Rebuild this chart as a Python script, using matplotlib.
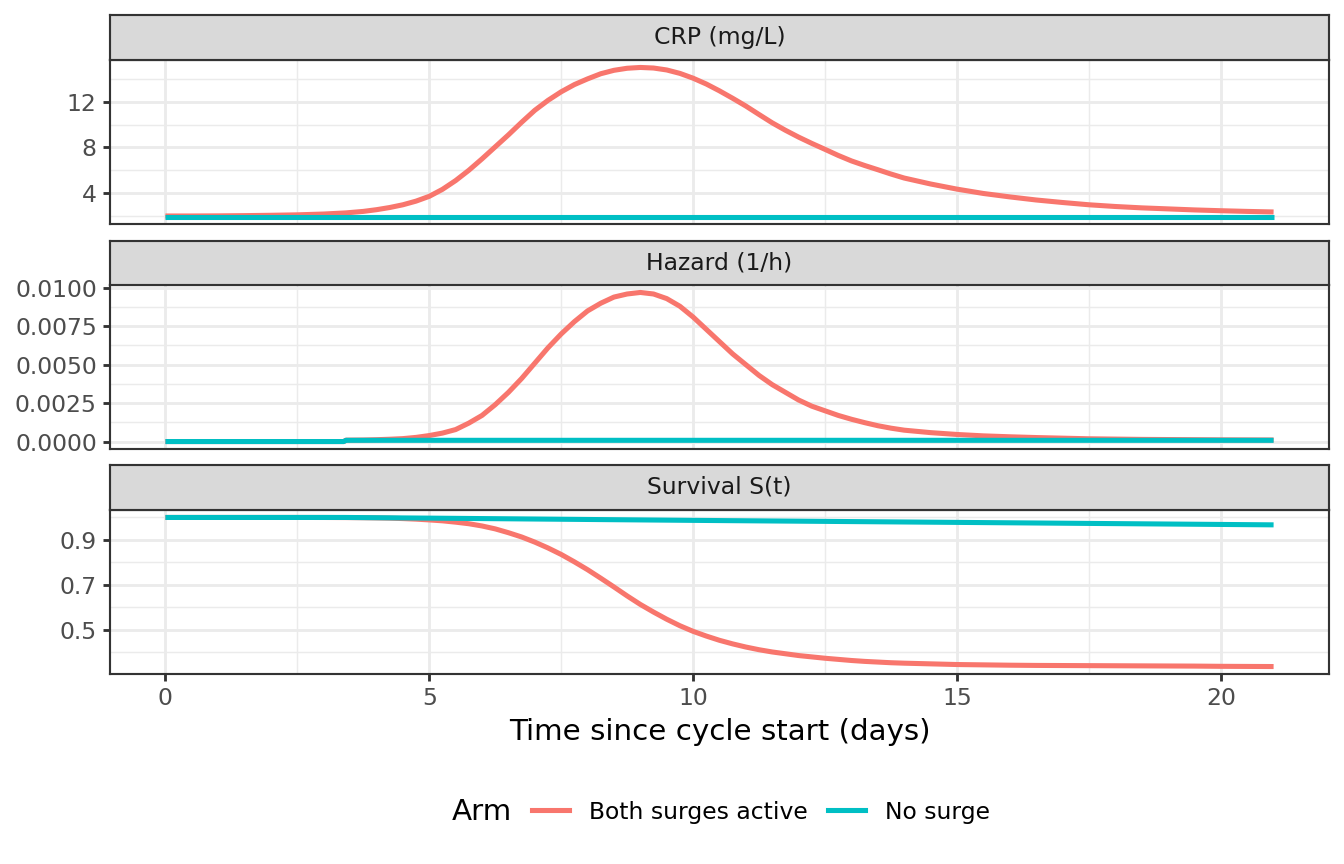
"""
Faceted time course of CRP, hazard and survival for two trial arms
(ggplot theme_bw look, one column of panels, free y scales).
"""

import matplotlib.pyplot as plt
from matplotlib.lines import Line2D
from matplotlib.ticker import FixedLocator, FormatStrFormatter

plt.rcParams["font.family"] = ["DejaVu Sans"]

ARMS = ["Both surges active", "No surge"]
ARM_COLORS = {"Both surges active": "#F8766D", "No surge": "#00BFC4"}
PANEL_TITLES = ["CRP (mg/L)", "Hazard (1/h)", "Survival S(t)"]

# ---- data (days since cycle start) ----
DAYS = [0.0, 0.5, 1.0, 1.5, 2.0, 2.5, 3.0, 3.38, 3.42, 3.75,
        4.0, 4.25, 4.5, 4.75, 5.0, 5.25, 5.5, 5.75, 6.0, 6.25, 6.5, 6.75,
        7.0, 7.25, 7.5, 7.75, 8.0, 8.25, 8.5, 8.75, 9.0, 9.25, 9.5, 9.75,
        10.0, 10.25, 10.5, 10.75, 11.0, 11.25, 11.5, 11.75, 12.0, 12.25,
        12.5, 12.75, 13.0, 13.25, 13.5, 13.75, 14.0,
        14.5, 15.0, 15.5, 16.0, 16.5, 17.0, 17.5, 18.0, 18.5, 19.0, 19.5,
        20.0, 20.5, 21.0]

CRP_BOTH = [2.00, 2.00, 2.01, 2.03, 2.06, 2.10, 2.17, 2.26, 2.27, 2.40,
            2.55, 2.74, 2.98, 3.30, 3.72, 4.33, 5.10, 6.00, 7.00, 8.05, 9.10,
            10.20, 11.25, 12.12, 12.87, 13.50, 14.00, 14.45, 14.75, 14.93,
            15.00, 14.95, 14.78, 14.48, 14.06, 13.55, 12.95, 12.30, 11.62,
            10.88, 10.15, 9.50, 8.90, 8.35, 7.83, 7.30, 6.82, 6.42, 6.05,
            5.67, 5.32,
            4.80, 4.35, 3.97, 3.67, 3.40, 3.18, 2.98, 2.83, 2.71, 2.62, 2.53,
            2.46, 2.40, 2.35]
CRP_NONE_DAYS = [0.0, 21.0]
CRP_NONE = [1.95, 1.95]

HAZ_BOTH = [0.0, 0.0, 0.0, 0.0, 0.0, 0.0, 0.0, 0.0, 0.00009, 0.0001,
            0.00012, 0.00015, 0.00019, 0.00027, 0.00039, 0.00055, 0.00078,
            0.0012, 0.0017, 0.0024, 0.0032, 0.0041, 0.0051, 0.0061, 0.0070,
            0.0078, 0.0085, 0.0090, 0.0094, 0.0096, 0.0097, 0.0096, 0.0093,
            0.0088, 0.0081, 0.0073, 0.0065, 0.0057, 0.0050, 0.0043, 0.0037,
            0.0032, 0.0027, 0.0023, 0.0020, 0.0017, 0.00145, 0.00123,
            0.00103, 0.00087, 0.00074,
            0.00058, 0.00046, 0.00037, 0.00031, 0.00026, 0.00022, 0.00018,
            0.00016, 0.00014, 0.00013, 0.00012, 0.00011, 0.000105, 0.0001]
HAZ_NONE_DAYS = [0.0, 3.38, 3.42, 21.0]
HAZ_NONE = [0.0, 0.0, 0.00008, 0.00008]

SURV_BOTH = [1.0, 1.0, 1.0, 1.0, 1.0, 1.0, 0.9999, 0.9995, 0.9995, 0.9988,
             0.998, 0.997, 0.995, 0.9925, 0.989, 0.985, 0.979, 0.972, 0.962,
             0.949, 0.932, 0.913, 0.890, 0.864, 0.835, 0.802, 0.767, 0.729,
             0.690, 0.650, 0.612, 0.578, 0.546, 0.517, 0.492, 0.471, 0.452,
             0.436, 0.422, 0.410, 0.400, 0.392, 0.384, 0.378, 0.372, 0.367,
             0.362, 0.358, 0.355, 0.352, 0.350,
             0.347, 0.344, 0.3425, 0.341, 0.340, 0.3395, 0.339, 0.3385,
             0.338, 0.3375, 0.337, 0.336, 0.3355, 0.335]
SURV_NONE_DAYS = [0.0, 3.4, 5.0, 10.0, 15.0, 21.0]
SURV_NONE = [1.0, 1.0, 0.997, 0.987, 0.978, 0.967]

Y_BREAKS = [[4, 8, 12], [0.0, 0.0025, 0.005, 0.0075, 0.01], [0.5, 0.7, 0.9]]
Y_MINOR = [[2, 6, 10, 14], [0.00125, 0.00375, 0.00625, 0.00875],
           [0.4, 0.6, 0.8, 1.0]]
Y_FMT = ["%g", "%.4f", "%.1f"]
X_BREAKS = [0, 5, 10, 15, 20]
X_MINOR = [2.5, 7.5, 12.5, 17.5]

# ggplot theme_bw colours
GREY20 = "#333333"
GREY30 = "#4D4D4D"
GREY85 = "#D9D9D9"
GREY92 = "#EBEBEB"
LW_GRID = 1.07
LW_BORDER = 0.8


def expand(lo, hi, mult=0.05):
    pad = (hi - lo) * mult
    return lo - pad, hi + pad


def main():
    assert len(DAYS) == len(CRP_BOTH) == len(HAZ_BOTH) == len(SURV_BOTH)

    W, H = 1344, 864
    fig = plt.figure(figsize=(7, 4.5), dpi=192)

    left, right = 110 / W, 1329 / W
    # (strip top, panel top, panel bottom) in pixels from the top
    rows = [(15, 60, 224), (241, 285, 449), (465, 510, 674)]

    series = [
        ((DAYS, CRP_BOTH), (CRP_NONE_DAYS, CRP_NONE)),
        ((DAYS, HAZ_BOTH), (HAZ_NONE_DAYS, HAZ_NONE)),
        ((DAYS, SURV_BOTH), (SURV_NONE_DAYS, SURV_NONE)),
    ]

    xlim = expand(min(DAYS), max(DAYS))
    axes = []
    for i, (s_top, p_top, p_bot) in enumerate(rows):
        ax = fig.add_axes([left, 1 - p_bot / H, right - left, (p_bot - p_top) / H])
        sx = fig.add_axes([left, 1 - p_top / H, right - left, (p_top - s_top) / H])
        axes.append(ax)

        # facet strip
        sx.set_facecolor(GREY85)
        sx.set_xticks([])
        sx.set_yticks([])
        for sp in sx.spines.values():
            sp.set_color(GREY20)
            sp.set_linewidth(LW_BORDER)
        sx.text(0.5, 0.5, PANEL_TITLES[i], transform=sx.transAxes,
                ha="center", va="center", fontsize=8.8, color="#1A1A1A")

        # red first, cyan drawn on top
        for (xs, ys), arm in zip(series[i], ARMS):
            ax.plot(xs, ys, color=ARM_COLORS[arm], lw=1.9, solid_capstyle="butt",
                    solid_joinstyle="round", zorder=3)

        all_y = list(series[i][0][1]) + list(series[i][1][1])
        ax.set_xlim(*xlim)
        ax.set_ylim(*expand(min(all_y), max(all_y)))

        ax.xaxis.set_major_locator(FixedLocator(X_BREAKS))
        ax.xaxis.set_minor_locator(FixedLocator(X_MINOR))
        ax.yaxis.set_major_locator(FixedLocator(Y_BREAKS[i]))
        ax.yaxis.set_minor_locator(FixedLocator(Y_MINOR[i]))
        ax.yaxis.set_major_formatter(FormatStrFormatter(Y_FMT[i]))

        ax.grid(which="major", color=GREY92, lw=LW_GRID, zorder=0)
        ax.grid(which="minor", color=GREY92, lw=LW_GRID / 2, zorder=0)
        ax.set_axisbelow(True)

        for sp in ax.spines.values():
            sp.set_color(GREY20)
            sp.set_linewidth(LW_BORDER)
            sp.set_zorder(4)

        ax.tick_params(axis="y", which="major", length=2.75, width=LW_GRID,
                       color=GREY20, labelcolor=GREY30, labelsize=8.8, pad=2.2)
        ax.tick_params(which="minor", length=0)
        if i < 2:
            ax.tick_params(axis="x", which="major", length=0, labelbottom=False)
        else:
            ax.tick_params(axis="x", which="major", length=2.75, width=LW_GRID,
                           color=GREY20, labelcolor=GREY30, labelsize=8.8, pad=2.2)

    axes[-1].set_xlabel("Time since cycle start (days)", fontsize=11,
                        color="black", labelpad=2.75)

    # legend at the bottom, title on the left like ggplot
    y_leg = 1 - 812 / H
    fig.text(452 / W, y_leg, "Arm", ha="left", va="center", fontsize=11)
    handles = [Line2D([], [], color=ARM_COLORS[a], lw=1.9) for a in ARMS]
    fig.legend(handles, ARMS, loc="center left", bbox_to_anchor=(532 / W, y_leg),
               ncol=2, frameon=False, fontsize=8.8, handlelength=1.58,
               handletextpad=0.85, columnspacing=0.85, borderpad=0,
               borderaxespad=0)

    fig.savefig("out.png", dpi=192, facecolor="white")
    plt.close(fig)


if __name__ == "__main__":
    main()
